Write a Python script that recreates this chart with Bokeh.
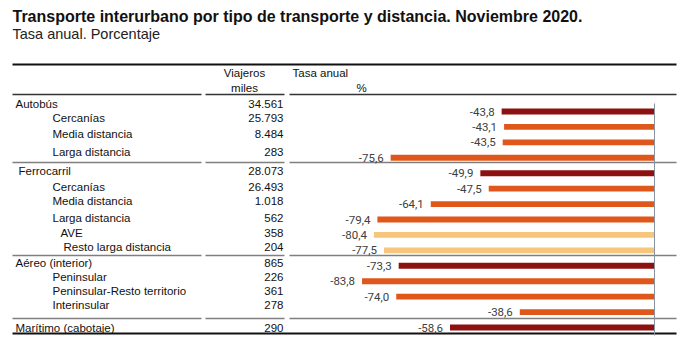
from bokeh.plotting import figure
from bokeh.models import Range1d, ColumnDataSource
from bokeh.core.properties import value
from bokeh.embed import file_html
from bokeh.resources import INLINE

# ---- data ----
labels = ["Autobús", "Cercanías", "Media distancia", "Larga distancia",
          "Ferrocarril", "Cercanías", "Media distancia", "Larga distancia",
          "AVE", "Resto larga distancia",
          "Aéreo (interior)", "Peninsular", "Peninsular-Resto territorio", "Interinsular",
          "Marítimo (cabotaje)"]
viajeros = ["34.561", "25.793", "8.484", "283",
            "28.073", "26.493", "1.018", "562", "358", "204",
            "865", "226", "361", "278", "290"]
tasa = [-43.8, -43.1, -43.5, -75.6,
        -49.9, -47.5, -64.1, -79.4, -80.4, -77.5,
        -73.3, -83.8, -74.0, -38.6, -58.6]
levels = [0, 1, 1, 1, 0, 1, 1, 1, 2, 2, 0, 1, 1, 1, 0]

# ---- layout / style ----
W, H = 684, 348
level_colors = {0: "#8E1111", 1: "#E0571B", 2: "#F5C67C"}
row_text_y = [103, 117, 133, 151, 170, 186, 200, 217, 232, 246, 262, 276, 290, 304, 327]
label_x = {0: 15, 1: 52, 2: 60}
label_x_special = {4: 18, 9: 63}

# bar scale: zero at x=654, 3.49 px per unit; bar rows start at y=111, step 15.43
zero_px = 654
px_per_unit = 3.49
row0_px = 111
row_step = 15.43

x_start = -zero_px / px_per_unit
x_end = (W - zero_px) / px_per_unit
y_top = -row0_px / row_step
y_bot = (H - row0_px) / row_step

p = figure(width=W, height=H, output_backend="svg", toolbar_location=None,
           x_range=Range1d(x_start, x_end), y_range=Range1d(y_bot, y_top),
           min_border=0, outline_line_color=None)
p.extra_x_ranges = {"px": Range1d(0, W)}
p.extra_y_ranges = {"py": Range1d(H, 0)}
p.axis.visible = False
p.xgrid.visible = False
p.ygrid.visible = False
p.background_fill_color = "white"
p.border_fill_color = "white"

FONT = value("Liberation Sans")
TS = "11.5px"

# Title and subtitle
p.text(x=[12], y=[16], text=["Transporte interurbano por tipo de transporte y distancia. Noviembre 2020."],
       x_range_name="px", y_range_name="py", text_font=FONT, text_font_size="16px",
       text_font_style="bold", text_color="#111111", text_baseline="middle")
p.text(x=[12], y=[33], text=["Tasa anual. Porcentaje"],
       x_range_name="px", y_range_name="py", text_font=FONT, text_font_size="14.5px",
       text_color="#222222", text_baseline="middle")

# Header
p.text(x=[244, 244], y=[72, 87], text=["Viajeros", "miles"],
       x_range_name="px", y_range_name="py", text_font=FONT, text_font_size=TS,
       text_color="#111111", text_baseline="middle", text_align="center")
p.text(x=[292], y=[72], text=["Tasa anual"],
       x_range_name="px", y_range_name="py", text_font=FONT, text_font_size=TS,
       text_color="#111111", text_baseline="middle")
p.text(x=[356], y=[87], text=["%"],
       x_range_name="px", y_range_name="py", text_font=FONT, text_font_size=TS,
       text_color="#111111", text_baseline="middle")

# Horizontal rules
p.segment(x0=[12, 12], x1=[676, 676], y0=[64, 333], y1=[64, 333],
          x_range_name="px", y_range_name="py", line_color="#111111", line_width=2)
segs = [(12, 201), (205, 284), (289, 676)]
for yy, col in [(94, "#333333"), (162, "#7f7f7f"), (255, "#7f7f7f"), (318, "#7f7f7f")]:
    p.segment(x0=[a for a, b in segs], x1=[b for a, b in segs],
              y0=[yy] * 3, y1=[yy] * 3,
              x_range_name="px", y_range_name="py", line_color=col, line_width=1.5)

# Table labels and values
lx = [label_x_special.get(i, label_x[l]) for i, l in enumerate(levels)]
tsrc = ColumnDataSource(dict(x=lx, y=row_text_y, t=labels, v=viajeros))
p.text(x="x", y="y", text="t", source=tsrc, x_range_name="px", y_range_name="py",
       text_font=FONT, text_font_size=TS, text_color="#111111", text_baseline="middle")
p.text(x=283, y="y", text="v", source=tsrc, x_range_name="px", y_range_name="py",
       text_font=FONT, text_font_size=TS, text_color="#111111", text_baseline="middle",
       text_align="right")

# Bars
rows = list(range(len(tasa)))
bsrc = ColumnDataSource(dict(y=rows, left=tasa, right=[0] * len(tasa),
                             color=[level_colors[l] for l in levels],
                             lab=[f"{v:.1f}".replace(".", ",") for v in tasa]))
p.hbar(y="y", left="left", right="right", height=0.38, fill_color="color",
       line_color=None, source=bsrc)
p.text(x="left", y="y", text="lab", source=bsrc, x_offset=-7, text_align="right",
       text_baseline="middle", text_font=value("Roboto"), text_font_size="11.5px",
       text_color="#404040")

# zero line
p.segment(x0=[0], x1=[0], y0=[103], y1=[335], y_range_name="py",
          line_color="#8a94a0", line_width=1)

open("out.html", "w").write(file_html(p, INLINE))
